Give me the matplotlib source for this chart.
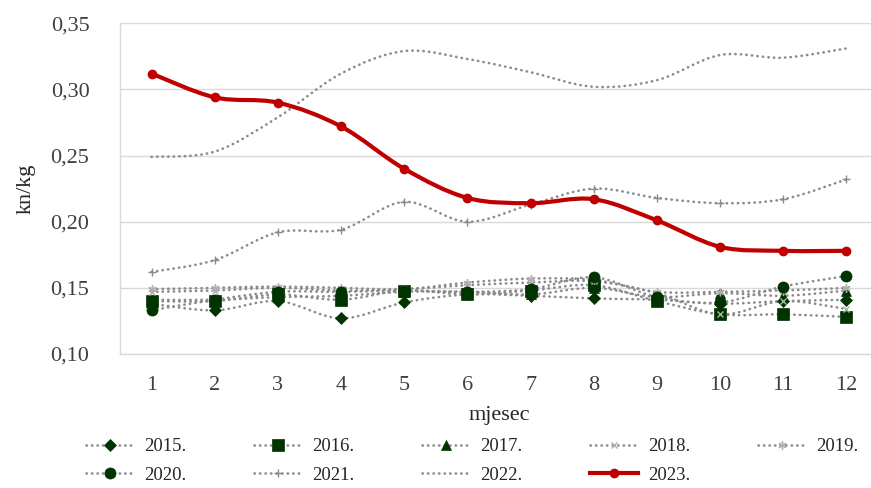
import numpy as np
import matplotlib
matplotlib.use('Agg')
import matplotlib.pyplot as plt
from matplotlib.path import Path
from matplotlib.patches import PathPatch
from matplotlib.lines import Line2D

plt.rcParams['font.family'] = ['Liberation Serif', 'DejaVu Serif']

months = list(range(1, 13))
years = ['2015.', '2016.', '2017.', '2018.', '2019.', '2020.', '2021.', '2022.', '2023.']

v2015 = [0.138, 0.133, 0.140, 0.127, 0.139, 0.145, 0.144, 0.142, 0.141, 0.138, 0.140, 0.141]
v2016 = [0.140, 0.140, 0.145, 0.141, 0.148, 0.145, 0.148, 0.152, 0.140, 0.130, 0.130, 0.128]
v2017 = [0.141, 0.141, 0.143, 0.144, 0.147, 0.147, 0.145, 0.150, 0.143, 0.146, 0.144, 0.148]
v2018 = [0.147, 0.148, 0.150, 0.148, 0.149, 0.152, 0.154, 0.155, 0.146, 0.130, 0.140, 0.134]
v2019 = [0.149, 0.150, 0.151, 0.150, 0.149, 0.154, 0.157, 0.156, 0.147, 0.147, 0.148, 0.150]
v2020 = [0.133, 0.141, 0.147, 0.147, 0.148, 0.147, 0.149, 0.158, 0.143, 0.139, 0.151, 0.159]
v2021 = [0.162, 0.171, 0.192, 0.194, 0.215, 0.200, 0.213, 0.225, 0.218, 0.214, 0.217, 0.232]
v2022 = [0.249, 0.253, 0.279, 0.312, 0.329, 0.323, 0.313, 0.302, 0.307, 0.326, 0.324, 0.331]
v2023 = [0.312, 0.294, 0.290, 0.272, 0.240, 0.218, 0.214, 0.217, 0.201, 0.181, 0.178, 0.178]

series = [v2015, v2016, v2017, v2018, v2019, v2020, v2021, v2022, v2023]

GREY = '#8a8a8a'
GREEN = '#003300'
LIGHT = '#b0b0b0'
RED = '#c00000'
DOTS = (0, (0.1, 2.0))

# marker, size, face colour, edge width for each year (2022 has none)
styles = [
    ('D', 6, GREEN, 0.5),
    ('s', 8, GREEN, 0.5),
    ('^', 7, GREEN, 0.5),
    ('x', 5, LIGHT, 1.0),
    ((6, 2, 0), 6, LIGHT, 1.0),
    ('o', 8, GREEN, 0.5),
    ('+', 6, GREY, 1.0),
    (None, 0, GREY, 0),
]


def smooth_path(xs, ys):
    pts = np.column_stack([xs, ys]).astype(float)
    n = len(pts)
    verts = [pts[0]]
    codes = [Path.MOVETO]
    for i in range(n - 1):
        p0 = pts[i - 1] if i > 0 else pts[i]
        p1 = pts[i]
        p2 = pts[i + 1]
        p3 = pts[i + 2] if i + 2 < n else pts[i + 1]
        verts += [p1 + (p2 - p0) / 6, p2 - (p3 - p1) / 6, p2]
        codes += [Path.CURVE4] * 3
    return Path(verts, codes)


fig = plt.figure(figsize=(8.71, 4.88), dpi=100)
ax = fig.add_axes([120 / 871, 1 - 354 / 488, 758 / 871, 330.7 / 488])

handles = []
for vals, (mk, ms, mc, mw) in zip(series[:-1], styles):
    ax.add_patch(PathPatch(smooth_path(months, vals), fill=False, edgecolor=GREY,
                           lw=1.9, ls=DOTS, capstyle='round', zorder=2))
    if mk is not None:
        ax.plot(months, vals, ls='none', marker=mk, ms=ms, color=mc,
                mec=mc, mew=mw, zorder=3)
    handles.append(Line2D([], [], color=GREY, lw=1.9, ls=DOTS, dash_capstyle='round',
                          marker=mk, ms=ms, mfc=mc, mec=mc, mew=mw))

ax.add_patch(PathPatch(smooth_path(months, v2023), fill=False, edgecolor=RED,
                       lw=3, capstyle='round', joinstyle='round', zorder=4))
ax.plot(months, v2023, ls='none', marker='o', ms=6, color=RED, zorder=5)
handles.append(Line2D([], [], color=RED, lw=3, marker='o', ms=6))

ax.set_xlim(0.5, 12.5)
ax.set_ylim(0.10, 0.35)
ax.set_xticks(months)
ax.set_yticks(np.arange(0.10, 0.351, 0.05))
ax.set_yticklabels([f'{t:.2f}'.replace('.', ',') for t in np.arange(0.10, 0.351, 0.05)])
ax.tick_params(axis='both', length=0, labelsize=16, colors='#404040')
ax.tick_params(axis='y', pad=22)
ax.tick_params(axis='x', pad=16)
ax.grid(axis='y', color='#d9d9d9', lw=1)
ax.set_axisbelow(True)
for s in ['top', 'right']:
    ax.spines[s].set_visible(False)
for s in ['left', 'bottom']:
    ax.spines[s].set_color('#d9d9d9')
    ax.spines[s].set_linewidth(1)

ax.set_xlabel('mjesec', fontsize=16, color='#262626', labelpad=8)
ax.set_ylabel('kn/kg', fontsize=16, color='#262626', labelpad=11)

order = [0, 5, 1, 6, 2, 7, 3, 8, 4]
leg = fig.legend([handles[i] for i in order], [years[i] for i in order],
                 loc='center', bbox_to_anchor=(472 / 871, 1 - 461 / 488), ncol=5,
                 frameon=False, fontsize=13.5, handlelength=2.6, handletextpad=0.5,
                 columnspacing=3.6, labelspacing=0.6, numpoints=1)
for t in leg.get_texts():
    t.set_color('#262626')

fig.savefig('out.png', dpi=100)
